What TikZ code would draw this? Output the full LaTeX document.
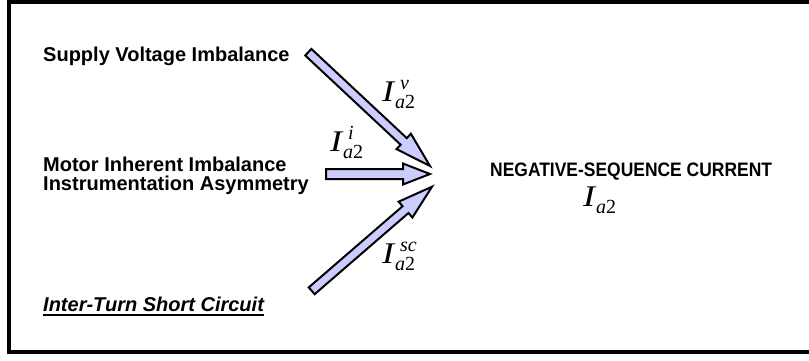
\documentclass[tikz,border=0pt]{standalone}
\usepackage{fontspec}
\setmainfont{Liberation Sans}
\newfontfamily\tms{Liberation Serif}
\usetikzlibrary{calc}
\definecolor{arrowfill}{RGB}{204,204,255}
\tikzset{
  src/.style={anchor=base west, inner sep=0pt, font=\fontsize{20}{19}\selectfont\bfseries},
  blockarrow/.style={draw=black, fill=arrowfill, line width=2pt, line join=miter},
  curlab/.style={anchor=base west, inner sep=0pt},
}
\newcommand\blkarrow[5]{%
  \draw[blockarrow] let \p1=($(#2)-(#1)$), \n1={atan2(\y1,\x1)}, \n2={veclen(\x1,\y1)-#5} in
    ($(#1)+(\n1+90:#3pt)$) -- ($(#1)+(\n1:\n2)+(\n1+90:#3pt)$)
    -- ($(#1)+(\n1:\n2)+(\n1+90:#4pt)$) -- (#2)
    -- ($(#1)+(\n1:\n2)+(\n1-90:#4pt)$) -- ($(#1)+(\n1:\n2)+(\n1-90:#3pt)$)
    -- ($(#1)+(\n1-90:#3pt)$) -- cycle;
}
\newcommand\Icur[1]{{\tms\itshape\fontsize{30}{30}\selectfont \scalebox{1.2}[1]{I}\kern1pt\fontsize{20}{20}\selectfont\makebox[0pt][l]{\kern5pt\raisebox{12pt}{#1}}\raisebox{-7pt}{a\upshape 2}}}
\begin{document}
\begin{tikzpicture}[x=1pt,y=-1pt]
  \useasboundingbox (0,0) rectangle (809,360);
  \clip (0,0) rectangle (809,360);
  \draw[line width=4pt] (9,1.5) rectangle (830,351.5);

  \node[src] (sv) at (43,61) {Supply Voltage Imbalance};
  \node[src, align=left] (mi) at (43,190) {Motor Inherent Imbalance\\Instrumentation Asymmetry};
  \node[src, font=\fontsize{20}{20}\selectfont\bfseries\itshape] (it) at (43,311) {Inter-Turn Short Circuit};
  \draw[line width=1.5pt] ([yshift=-4pt]it.base west) -- ([yshift=-4pt]it.base east);

  \node[src, font=\fontsize{19.5}{19.5}\selectfont\bfseries] (neg) at (490,176) {\scalebox{0.895}[1]{NEGATIVE-SEQUENCE CURRENT}};
  \node[curlab] (ia2) at (583,206) {\Icur{}};

  \coordinate (t1) at (308.3,52.2);
  \coordinate (h1) at (430,166);
  \coordinate (t2) at (326,174);
  \coordinate (h2) at (430,174);
  \coordinate (t3) at (311.7,290.8);
  \coordinate (h3) at (432,186.7);

  \blkarrow{t1}{h1}{4.5}{10.5}{36}
  \blkarrow{t2}{h2}{5}{10.5}{27}
  \blkarrow{t3}{h3}{4.5}{10.5}{35}

  \node[curlab] (lv) at (382,101) {\Icur{v}};
  \node[curlab] (li) at (330,151) {\Icur{i}};
  \node[curlab] (lsc) at (382,263) {\Icur{sc}};
\end{tikzpicture}
\end{document}
